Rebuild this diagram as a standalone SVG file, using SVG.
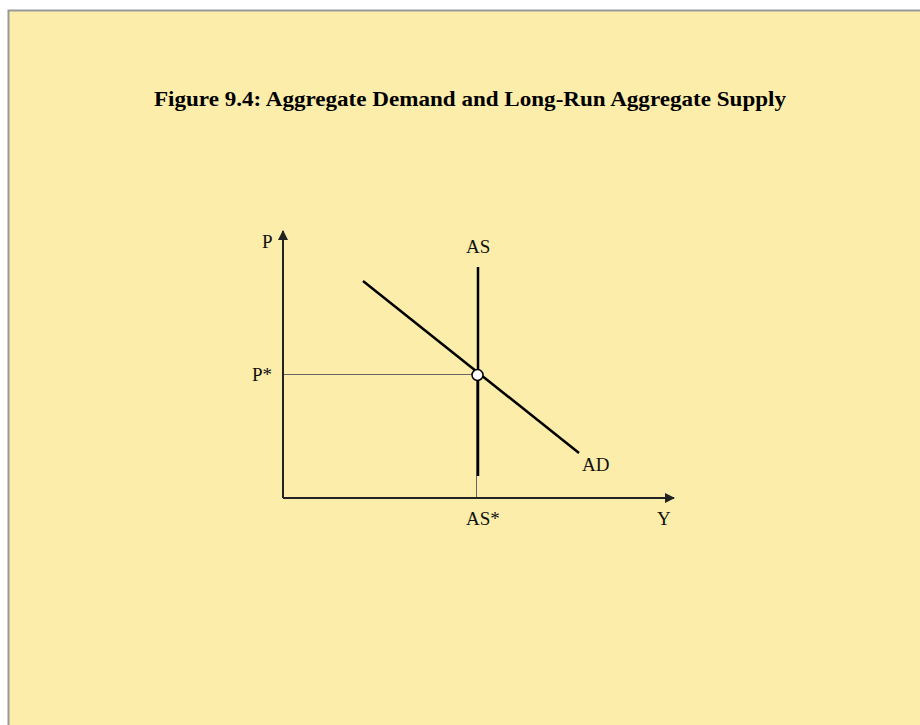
<svg xmlns="http://www.w3.org/2000/svg" width="920" height="725" viewBox="0 0 920 725">
<style>
.lbl{font-family:"Liberation Serif","Times New Roman",serif;font-size:19px;fill:#111}
.title{font-family:"Liberation Serif","Times New Roman",serif;font-size:21px;font-weight:bold;fill:#000}
.axis{stroke:#222;stroke-width:2;fill:none}
.guide{stroke:#666;stroke-width:1;fill:none}
.curve{stroke:#000;stroke-width:2.5;fill:none}
</style>
<defs>
<marker id="arr" viewBox="0 0 10 10" refX="9" refY="5" markerWidth="5" markerHeight="5" orient="auto" markerUnits="strokeWidth">
<path d="M0,0 L10,5 L0,10 z" fill="#222"/>
</marker>
</defs>
<rect x="0" y="0" width="920" height="725" fill="#ffffff"/>
<rect x="8.5" y="10.5" width="920" height="725" fill="#FCEEAA" stroke="#999999" stroke-width="2"/>
<text class="title" x="470" y="106" text-anchor="middle" textLength="632" lengthAdjust="spacingAndGlyphs">Figure 9.4: Aggregate Demand and Long-Run Aggregate Supply</text>
<g id="connectors">
<line class="guide" x1="283" y1="374.5" x2="477" y2="374.5"/>
<line class="guide" x1="476.5" y1="375" x2="476.5" y2="498"/>
<line class="axis" x1="283" y1="498" x2="283" y2="231" marker-end="url(#arr)"/>
<line class="axis" x1="283" y1="498" x2="674" y2="498" marker-end="url(#arr)"/>
</g>
<g id="AS">
<line class="curve" x1="478" y1="267" x2="478" y2="476"/>
<text class="lbl" x="466" y="253">AS</text>
</g>
<g id="AD">
<line class="curve" x1="363" y1="281" x2="579" y2="453"/>
<text class="lbl" x="582" y="471">AD</text>
</g>
<g id="equilibrium">
<circle cx="477.5" cy="375" r="5.5" fill="#ffffff" stroke="#000" stroke-width="1.5"/>
</g>
<g id="labels">
<text class="lbl" x="262" y="248">P</text>
<text class="lbl" x="252" y="381">P*</text>
<text class="lbl" x="466" y="525">AS*</text>
<text class="lbl" x="657" y="525">Y</text>
</g>
</svg>
